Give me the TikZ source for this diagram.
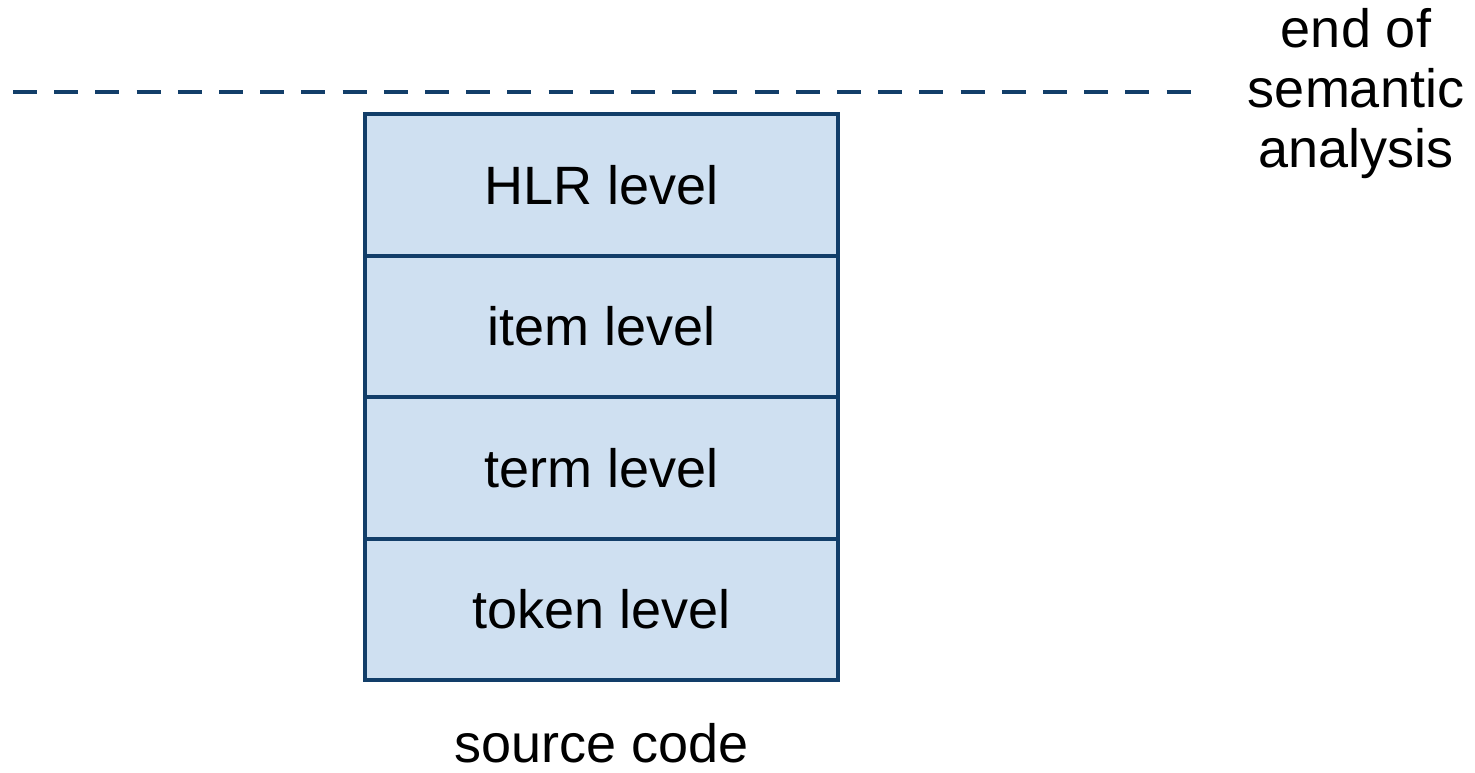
\documentclass[tikz,border=0pt]{standalone}
\usepackage{fontspec}
\setmainfont{Liberation Sans}
\definecolor{edge}{HTML}{123E69}
\definecolor{cell}{HTML}{CFE0F1}
\begin{document}
\begin{tikzpicture}[x=0.5pt,y=-0.5pt,
  level/.style={draw=edge, fill=cell, line width=2pt, minimum width=236.5pt, minimum height=70.75pt, inner sep=0pt, font=\fontsize{27}{30}\selectfont},
  lbl/.style={inner sep=0pt, font=\fontsize{27}{30}\selectfont}]
\useasboundingbox (0,0) rectangle (1475,772);
\node[level] (hlr) at (601.5,184.75) {HLR level};
\node[level] (item) at (601.5,326.25) {item level};
\node[level] (term) at (601.5,467.75) {term level};
\node[level] (token) at (601.5,609.25) {token level};
\node[lbl, anchor=base] (src) at (601.5,762) {source code};
\node[lbl, align=center] (end) at (1356,94) {end of\\semantic\\analysis};
\coordinate (l) at (13,92);
\coordinate (r) at (1193,92);
\draw[edge, line width=2pt, dash pattern=on 12pt off 8.6pt] (l) -- (r);
\end{tikzpicture}
\end{document}
